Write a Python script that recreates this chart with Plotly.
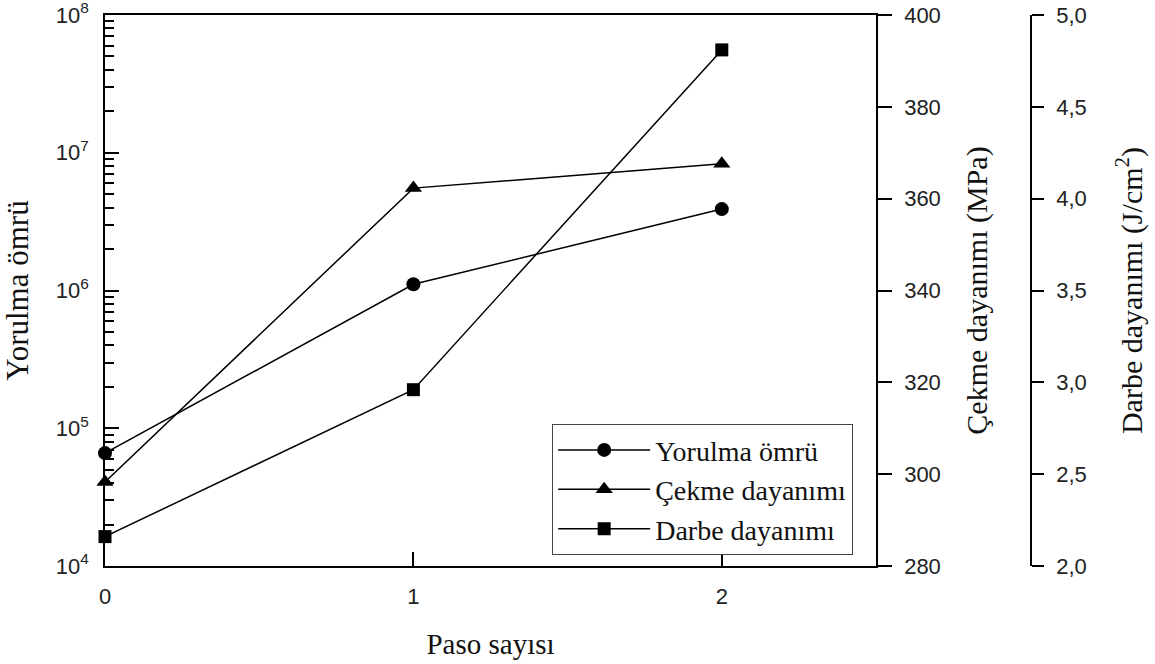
import plotly.graph_objects as go

# Pass count on the x axis
paso = [0, 1, 2]

# Fatigue life (cycles), tensile strength (MPa), impact strength (J/cm2)
yorulma_omru = [6.6e4, 1.11e6, 3.9e6]
cekme_dayanimi = [298.3, 362.3, 367.6]
darbe_dayanimi = [2.16, 2.96, 4.81]

# Left log axis tick labels
log_tickvals = [1e4, 1e5, 1e6, 1e7, 1e8]
log_ticktext = ["10<sup>4</sup>", "10<sup>5</sup>", "10<sup>6</sup>",
                "10<sup>7</sup>", "10<sup>8</sup>"]
minor_vals = [m * 10 ** e for e in range(4, 8) for m in range(2, 10)]

SERIF = "Liberation Serif, Times New Roman, serif"
SANS = "Liberation Sans, Arial, sans-serif"
LINE = dict(color="black", width=1.5)

fig = go.Figure()
fig.add_trace(go.Scatter(
    x=paso, y=yorulma_omru, name="Yorulma ömrü", yaxis="y",
    mode="lines+markers", line=LINE, cliponaxis=False,
    marker=dict(symbol="circle", size=14, color="black")))
fig.add_trace(go.Scatter(
    x=paso, y=cekme_dayanimi, name="Çekme dayanımı", yaxis="y2",
    mode="lines+markers", line=LINE, cliponaxis=False,
    marker=dict(symbol="triangle-up", size=15, color="black")))
fig.add_trace(go.Scatter(
    x=paso, y=darbe_dayanimi, name="Darbe dayanımı", yaxis="y3",
    mode="lines+markers", line=LINE, cliponaxis=False,
    marker=dict(symbol="square", size=13, color="black")))

axis_common = dict(showgrid=False, zeroline=False, showline=True,
                   automargin=False, ticklabeloverflow="allow",
                   linecolor="black", linewidth=1.5, tickcolor="black",
                   tickwidth=1.5, tickfont=dict(family=SANS, size=22, color="#222"))

fig.update_layout(
    width=1155, height=664,
    paper_bgcolor="white", plot_bgcolor="white",
    margin=dict(l=105, r=124, t=15, b=98),
    separators=",.",
    showlegend=True,
    legend=dict(x=0.4827, y=0.2577, xanchor="left", yanchor="top",
                bgcolor="white", bordercolor="#444", borderwidth=1.2,
                font=dict(family=SERIF, size=28, color="#111"),
                itemwidth=92, tracegroupgap=0),
    xaxis=dict(domain=[0, 771 / 926], range=[0, 2.5],
               tickvals=[0, 1, 2], ticks="inside", ticklen=14,
               mirror=True, ticklabelstandoff=10,
               title=dict(text="Paso sayısı", standoff=26,
                          font=dict(family=SERIF, size=29, color="#111")),
               **axis_common),
    yaxis=dict(type="log", range=[4, 8], tickvals=log_tickvals,
               ticktext=log_ticktext, ticks="inside", ticklen=14,
               minor=dict(tickvals=minor_vals, ticks="inside", ticklen=9,
                          tickcolor="black", tickwidth=1.5),
               ticklabelstandoff=10,
               title=dict(text="Yorulma ömrü", standoff=22,
                          font=dict(family=SERIF, size=31, color="#111")),
               **axis_common),
    yaxis2=dict(overlaying="y", side="right", anchor="x", range=[280, 400],
                dtick=20, tick0=280, ticks="outside", ticklen=14,
                ticklabelstandoff=8,
                title=dict(text="Çekme dayanımı (MPa)", standoff=26,
                           font=dict(family=SERIF, size=30, color="#111")),
                **axis_common),
    yaxis3=dict(overlaying="y", side="right", anchor="free", position=1.0,
                range=[2, 5], dtick=0.5, tick0=2, tickformat=".1f",
                ticks="outside", ticklen=12, ticklabelstandoff=8,
                title=dict(text="Darbe dayanımı (J/cm<sup>2</sup>)", standoff=34,
                           font=dict(family=SERIF, size=30, color="#111")),
                **axis_common),
)

fig.write_html("out.html")
